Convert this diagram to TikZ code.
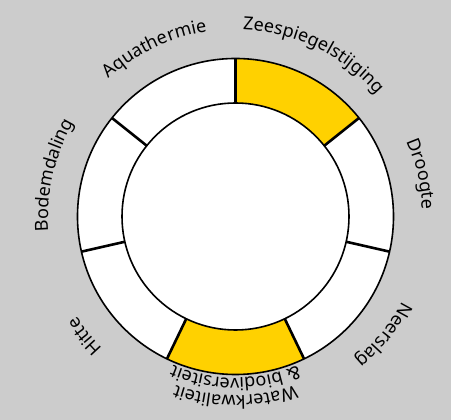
\documentclass[tikz,border=0pt]{standalone}
\usepackage{fontspec}
\setmainfont{Noto Sans}
\usetikzlibrary{decorations.text}
\definecolor{bggray}{HTML}{CCCCCC}
\definecolor{sunyellow}{HTML}{FFD100}
\newcommand{\lblfont}{\fontsize{18}{18}\selectfont}

\begin{document}
\begin{tikzpicture}[
  x=1pt,y=1pt,
  rim/.style={draw=black,line width=1.6pt},
  divider/.style={draw=black,line width=2.6pt},
  arclabel/.style={decorate,decoration={text along path,text align=center,text={|\lblfont|#1}}},
]
% background
\fill[bggray] (0,0) rectangle (451,420);
\useasboundingbox (0,0) rectangle (451,420);

\begin{scope}[shift={(235.5,203.5)}]
% sectors, clockwise from the top
\foreach \i/\col in {0/sunyellow,1/white,2/white,3/sunyellow,4/white,5/white,6/white}{
  \pgfmathsetmacro{\a}{90-\i*360/7}
  \pgfmathsetmacro{\b}{\a-360/7}
  \fill[\col] (\a:113.5) arc[start angle=\a,end angle=\b,radius=113.5]
    -- (\b:158) arc[start angle=\b,end angle=\a,radius=158] -- cycle;
}
\fill[white] (0,0) circle[radius=113.5];

% dividers and rims
\foreach \i in {0,...,6}
  \draw[divider] ({90-\i*360/7}:113.5) -- ({90-\i*360/7}:158);
\draw[rim] (0,0) circle[radius=113.5];
\draw[rim] (0,0) circle[radius=158];

% labels along the ring
\path[arclabel=Zeespiegelstijging] (124.29:187) arc[start angle=124.29,end angle=4.29,radius=187];
\path[arclabel=Droogte] (72.86:187) arc[start angle=72.86,end angle=-47.14,radius=187];
\path[arclabel=Neerslag] (21.43:187) arc[start angle=21.43,end angle=-98.57,radius=187];
\path[arclabel=Waterkwaliteit] (-30:179) arc[start angle=-30,end angle=-150,radius=179];
\path[arclabel={{\&} biodiversiteit}] (-30:161.5) arc[start angle=-30,end angle=-150,radius=161.5];
\path[arclabel=Hitte] (-81.43:187) arc[start angle=-81.43,end angle=-201.43,radius=187];
\path[arclabel=Bodemdaling] (227.14:187) arc[start angle=227.14,end angle=107.14,radius=187];
\path[arclabel=Aquathermie] (175.71:187) arc[start angle=175.71,end angle=55.71,radius=187];
\end{scope}
\end{tikzpicture}
\end{document}
